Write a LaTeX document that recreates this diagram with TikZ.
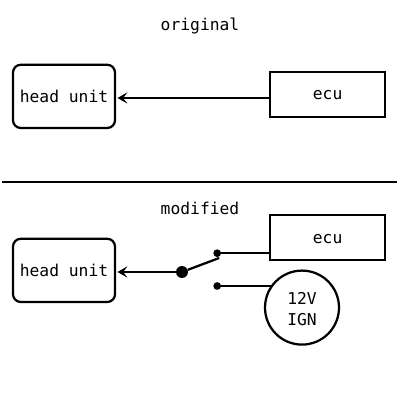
\documentclass[tikz,border=0pt]{standalone}
\usepackage{fontspec}
\setmonofont{DejaVu Sans Mono}
\usetikzlibrary{positioning,arrows.meta}
\tikzset{
  label/.style={font=\ttfamily\fontsize{11.6pt}{15.5pt}\selectfont, align=center},
  unitbox/.style={label, draw=black, line width=1.6pt, rounded corners=5.5pt, minimum width=2.55cm, minimum height=1.58cm, inner sep=0pt},
  ecubox/.style={label, draw=black, line width=1.6pt, minimum width=2.87cm, minimum height=1.13cm, inner sep=0pt, text height=8pt},
  wire/.style={line width=1.6pt},
  feed/.style={wire, {Stealth[length=7pt,width=8pt,inset=3pt]}-, shorten <=1pt},
  contact/.style={circle, fill=black, inner sep=0pt, minimum size=5.5pt}
}
\begin{document}
\begin{tikzpicture}
  \useasboundingbox (0,0) rectangle (10,10);
  \node[label] (titleorig) at (5,9.36) {original};
  \node[unitbox] (headorig) at (1.6,7.59) {head unit};
  \node[ecubox] (ecuorig) at (8.19,7.64) {ecu};
  \draw[feed] (headorig.east |- 0,7.55) -- (ecuorig.west |- 0,7.55);

  % divider
  \coordinate (divl) at (0.05,5.45);
  \coordinate (divr) at (9.93,5.45);
  \draw[wire] (divl) -- (divr);

  \node[label] (titlemod) at (5,4.8) {modified};
  \node[unitbox] (headmod) at (1.6,3.24) {head unit};
  \node[ecubox] (ecumod) at (8.19,4.06) {ecu};
  \node[label, draw=black, line width=1.6pt, circle, minimum size=1.85cm, inner sep=0pt] (ign) at (7.55,2.31) {\rule{0pt}{10.6pt}12V\\IGN};

  % switch
  \node[circle, fill=black, inner sep=0pt, minimum size=8.5pt] (pivot) at (4.55,3.2) {};
  \node[contact] (contacta) at (5.43,3.67) {};
  \node[contact] (contactb) at (5.43,2.85) {};
  \coordinate (leverend) at (5.48,3.55);
  \draw[wire] (pivot) -- (leverend);
  \draw[feed] (headmod.east |- pivot) -- (pivot);
  \draw[wire] (contacta) -- (contacta -| ecumod.west);
  \draw[wire] (contactb) -- (contactb -| ign.145);
\end{tikzpicture}
\end{document}
